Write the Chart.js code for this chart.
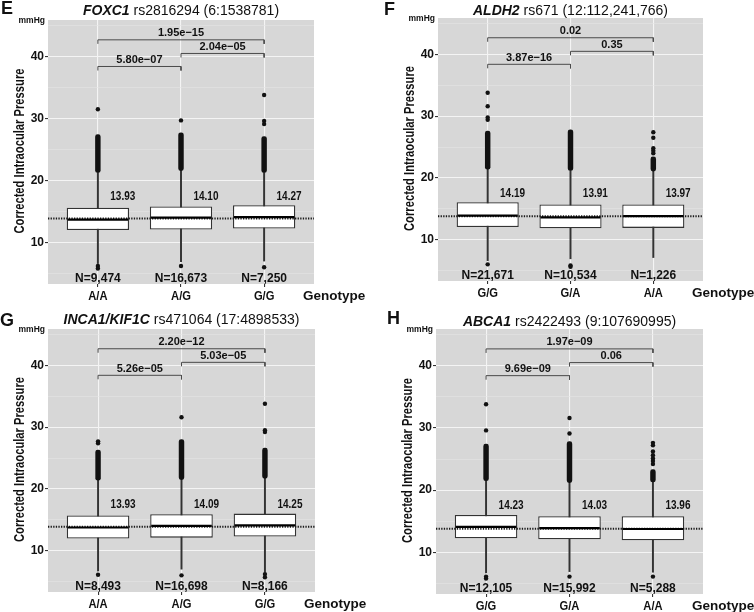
<!DOCTYPE html>
<html><head><meta charset="utf-8">
<script src="https://cdn.jsdelivr.net/npm/chart.js@4/dist/chart.umd.min.js"></script>
<style>
html,body{margin:0;padding:0;background:#fff;}
#wrap{position:relative;width:754px;height:612px;overflow:hidden;}
.pn{position:absolute;width:377px;height:306px;}
canvas{display:block;}
</style></head><body>
<div id="wrap">
<div class="pn" style="left:0;top:0"><canvas id="cE" width="377" height="306"></canvas></div>
<div class="pn" style="left:377px;top:0"><canvas id="cF" width="377" height="306"></canvas></div>
<div class="pn" style="left:0;top:306px"><canvas id="cG" width="377" height="306"></canvas></div>
<div class="pn" style="left:377px;top:306px"><canvas id="cH" width="377" height="306"></canvas></div>
</div>
<script>
// ---------- data ----------
const panelLetters = ['E', 'F', 'G', 'H'];
const geneNames = ['FOXC1', 'ALDH2', 'INCA1/KIF1C', 'ABCA1'];
const snpLabels = ['rs2816294 (6:1538781)', 'rs671 (12:112,241,766)', 'rs471064 (17:4898533)', 'rs2422493 (9:107690995)'];
const xAxisName = 'Genotype';
const yAxisName = 'Corrected Intraocular Pressure';
const yUnit = 'mmHg';
const yMajorTicks = [10, 20, 30, 40];
const yMinorTicks = [5, 15, 25, 35, 45];
const comparisonPairs = [[0, 1], [1, 2], [0, 2]];
const bracketLevels = [38.4, 40.5, 42.7];
const referenceLines = [13.85, 13.8, 13.85, 13.8];

// Panel E
const genotypesE = ['A/A', 'A/G', 'G/G'];
const q1E = [12.0, 12.1, 12.25];
const medianE = [13.7, 14.0, 14.1];
const q3E = [15.6, 15.8, 16.0];
const whiskerLowE = [6.6, 6.9, 7.0];
const whiskerHighE = [21.3, 21.6, 21.3];
const denseOutliersE = [[21.3, 27.4], [21.6, 27.7], [21.3, 27.1]];
const sparseOutliersE = [[31.5, 6.2, 5.8], [29.7, 6.2], [29.1, 29.6, 33.8, 6.0]];
const meanE = [13.93, 14.10, 14.27];
const countE = [9474, 16673, 7250];
const pValuesE = ['5.80e\u221207', '2.04e\u221205', '1.95e\u221215'];

// Panel F
const genotypesF = ['G/G', 'G/A', 'A/A'];
const q1F = [12.05, 11.85, 11.9];
const medianF = [13.9, 13.6, 13.8];
const q3F = [16.05, 15.7, 15.7];
const whiskerLowF = [6.6, 6.9, 7.1];
const whiskerHighF = [21.4, 21.2, 21.1];
const denseOutliersF = [[21.4, 27.6], [21.2, 27.8], [21.1, 23.4]];
const sparseOutliersF = [[29.4, 29.8, 31.6, 33.8, 6.0], [5.8, 5.6], [24.0, 24.4, 24.8, 26.5, 27.4]];
const meanF = [14.19, 13.91, 13.97];
const countF = [21671, 10534, 1226];
const pValuesF = ['3.87e\u221216', '0.35', '0.02'];

// Panel G
const genotypesG = ['A/A', 'A/G', 'G/G'];
const q1G = [11.95, 12.1, 12.3];
const medianG = [13.75, 14.0, 14.1];
const q3G = [15.7, 15.9, 16.0];
const whiskerLowG = [6.7, 7.0, 6.5];
const whiskerHighG = [21.4, 21.5, 21.7];
const denseOutliersG = [[21.4, 26.3], [21.5, 28.0], [21.7, 26.6]];
const sparseOutliersG = [[27.4, 27.7, 6.1], [31.6, 6.0], [29.2, 29.5, 33.8, 6.2, 5.7]];
const meanG = [13.93, 14.09, 14.25];
const countG = [8493, 16698, 8166];
const pValuesG = ['5.26e\u221205', '5.03e\u221205', '2.20e\u221212'];

// Panel H
const genotypesH = ['G/G', 'G/A', 'A/A'];
const q1H = [12.25, 12.1, 11.95];
const medianH = [14.1, 13.9, 13.75];
const q3H = [16.0, 15.8, 15.8];
const whiskerLowH = [6.7, 6.9, 6.8];
const whiskerHighH = [21.5, 21.2, 21.3];
const denseOutliersH = [[21.5, 27.4], [21.2, 27.8], [21.3, 23.3]];
const sparseOutliersH = [[29.6, 33.8, 6.1, 5.8], [29.1, 31.6, 6.1], [24.2, 24.7, 25.1, 25.6, 26.2, 27.2, 27.6, 6.1]];
const meanH = [14.23, 14.03, 13.96];
const countH = [12105, 15992, 5288];
const pValuesH = ['9.69e\u221209', '0.06', '1.97e\u221209'];

// ---------- layout / style ----------
const Y_MIN = 3.3, Y_MAX = 45.9, X_MIN = -0.6, X_MAX = 2.6;
const FONT = "'Liberation Sans', Arial, Helvetica, sans-serif";
const CONDENSE = 0.8;
const panelBoxes = [
  {canvas: 'cE', left: 48, right: 314, top: 20, bottom: 284, titleY: 11, letterX: 1, letterY: 9},
  {canvas: 'cF', left: 61, right: 326, top: 18, bottom: 281, titleY: 11, letterX: 7, letterY: 10},
  {canvas: 'cG', left: 48, right: 315, top: 23, bottom: 286, titleY: 14, letterX: 0, letterY: 15},
  {canvas: 'cH', left: 59, right: 326, top: 23, bottom: 288, titleY: 16, letterX: 10, letterY: 13}
];
const panels = [
  {cats: genotypesE, q1: q1E, med: medianE, q3: q3E, wLo: whiskerLowE, wHi: whiskerHighE, dense: denseOutliersE, sparse: sparseOutliersE, mean: meanE, count: countE, p: pValuesE},
  {cats: genotypesF, q1: q1F, med: medianF, q3: q3F, wLo: whiskerLowF, wHi: whiskerHighF, dense: denseOutliersF, sparse: sparseOutliersF, mean: meanF, count: countF, p: pValuesF},
  {cats: genotypesG, q1: q1G, med: medianG, q3: q3G, wLo: whiskerLowG, wHi: whiskerHighG, dense: denseOutliersG, sparse: sparseOutliersG, mean: meanG, count: countG, p: pValuesG},
  {cats: genotypesH, q1: q1H, med: medianH, q3: q3H, wLo: whiskerLowH, wHi: whiskerHighH, dense: denseOutliersH, sparse: sparseOutliersH, mean: meanH, count: countH, p: pValuesH}
];

// draw horizontally condensed text (no narrow font installed)
function condensedText(ctx, text, x, y, font, sx, rot) {
  ctx.save();
  ctx.translate(x, y);
  if (rot) ctx.rotate(rot);
  ctx.scale(sx, 1);
  ctx.font = font;
  ctx.textAlign = 'center';
  ctx.textBaseline = 'middle';
  ctx.fillText(text, 0, 0);
  ctx.restore();
}

function buildPanel(k) {
  const d = panels[k], L = panelBoxes[k];
  const idx = d.cats.map((c, i) => i);
  const boxData = idx.map(i => ({x: i, y: [d.q1[i], d.q3[i]]}));
  const whiskerData = idx.map(i => ({x: i, y: [d.wLo[i], d.wHi[i]]}));
  const denseData = idx.map(i => ({x: i, y: d.dense[i]}));
  const sparseData = [];
  idx.forEach(i => d.sparse[i].forEach(v => sparseData.push({x: i, y: v})));
  const refData = [{x: X_MIN, y: referenceLines[k]}, {x: X_MAX, y: referenceLines[k]}];
  const legDrop = 0.65;
  const bracketSets = comparisonPairs.map((pr, j) => ({
    type: 'line', order: 1,
    data: [{x: pr[0], y: bracketLevels[j] - legDrop}, {x: pr[0], y: bracketLevels[j]}, {x: pr[1], y: bracketLevels[j]}, {x: pr[1], y: bracketLevels[j] - legDrop}],
    borderColor: '#4a4a4a', borderWidth: 1, pointRadius: 0, tension: 0, fill: false
  }));

  const decor = {
    id: 'decor' + k,
    beforeDraw(chart) {
      const {ctx, chartArea: a} = chart;
      ctx.save();
      ctx.fillStyle = '#d7d7d7';
      ctx.fillRect(a.left, a.top, a.right - a.left, a.bottom - a.top);
      ctx.restore();
    },
    afterDatasetsDraw(chart) {
      const {ctx} = chart;
      const ys = chart.scales.y;
      const meta = chart.getDatasetMeta(4);
      ctx.save();
      ctx.strokeStyle = '#000';
      ctx.lineWidth = 2.2;
      meta.data.forEach((el, i) => {
        const py = ys.getPixelForValue(d.med[i]);
        ctx.beginPath();
        ctx.moveTo(el.x - el.width / 2 + 1, py);
        ctx.lineTo(el.x + el.width / 2 - 1, py);
        ctx.stroke();
      });
      ctx.restore();
    },
    afterDraw(chart) {
      const {ctx, chartArea: a} = chart;
      const xs = chart.scales.x, ys = chart.scales.y;
      ctx.save();
      ctx.fillStyle = '#111';
      ctx.textBaseline = 'middle';
      // panel letter
      ctx.textAlign = 'left';
      ctx.font = 'bold 18px ' + FONT;
      ctx.fillText(panelLetters[k], L.letterX, L.letterY);
      // title: italic gene + plain SNP
      const gFont = 'italic bold 14px ' + FONT, sFont = '14px ' + FONT;
      ctx.font = gFont; const gw = ctx.measureText(geneNames[k] + ' ').width;
      ctx.font = sFont; const sw = ctx.measureText(snpLabels[k]).width;
      const tx = (a.left + a.right) / 2 - (gw + sw) / 2;
      ctx.font = gFont; ctx.fillText(geneNames[k] + ' ', tx, L.titleY);
      ctx.font = sFont; ctx.fillText(snpLabels[k], tx + gw, L.titleY);
      // unit
      ctx.textAlign = 'right';
      ctx.font = 'bold 8.5px ' + FONT;
      ctx.fillText(yUnit, a.left - 3, a.top + 1);
      // x axis name
      ctx.textAlign = 'left';
      ctx.font = 'bold 13.5px ' + FONT;
      ctx.fillText(xAxisName, a.right - 11, a.bottom + 12);
      // y axis name (condensed, rotated)
      condensedText(ctx, yAxisName, a.left - 28, (a.top + a.bottom) / 2 - 1, 'bold 14px ' + FONT, CONDENSE, -Math.PI / 2);
      // category labels (condensed)
      idx.forEach(i => condensedText(ctx, d.cats[i], xs.getPixelForValue(i), a.bottom + 12, 'bold 13px ' + FONT, 0.86, 0));
      // mean labels (condensed)
      idx.forEach(i => condensedText(ctx, d.mean[i].toFixed(2), xs.getPixelForValue(i + 0.3), ys.getPixelForValue(17.45), 'bold 12.5px ' + FONT, CONDENSE, 0));
      // N labels
      ctx.textAlign = 'center';
      ctx.font = 'bold 12px ' + FONT;
      idx.forEach(i => ctx.fillText('N=' + d.count[i].toLocaleString('en-US'), xs.getPixelForValue(i), ys.getPixelForValue(4.2)));
      // p-values
      ctx.font = 'bold 11px ' + FONT;
      comparisonPairs.forEach((pr, j) => ctx.fillText(d.p[j], xs.getPixelForValue((pr[0] + pr[1]) / 2), ys.getPixelForValue(bracketLevels[j] + 1.07)));
      ctx.restore();
    }
  };

  return new Chart(document.getElementById(L.canvas), {
    type: 'bar',
    data: {
      datasets: [
        {type: 'line', order: 0, data: refData, borderColor: '#1a1a1a', borderWidth: 2, borderDash: [1.3, 1.3], pointRadius: 0, fill: false},
        ...bracketSets,
        {type: 'bar', order: 3, data: boxData, grouped: false, backgroundColor: '#ffffff', borderColor: '#333333', borderWidth: 1.3, borderSkipped: false, barPercentage: 0.75, categoryPercentage: 1.0},
        {type: 'bar', order: 4, data: denseData, grouped: false, backgroundColor: '#111111', borderWidth: 0, barThickness: 4.8, borderRadius: 2.4, borderSkipped: false},
        {type: 'scatter', order: 4, data: sparseData, backgroundColor: '#111111', borderWidth: 0, pointRadius: 2.2, showLine: false},
        {type: 'bar', order: 5, data: whiskerData, grouped: false, backgroundColor: '#333333', borderWidth: 0, barThickness: 1.3}
      ]
    },
    options: {
      responsive: false,
      animation: false,
      devicePixelRatio: 1,
      layout: {padding: {top: L.top, right: 377 - L.right, left: 0, bottom: 0}},
      plugins: {legend: {display: false}, tooltip: {enabled: false}, title: {display: false}},
      scales: {
        x: {
          type: 'linear', min: X_MIN, max: X_MAX, offset: false,
          afterBuildTicks: s => { s.ticks = idx.map(i => ({value: i})); },
          afterFit: s => { s.height = 306 - L.bottom; },
          border: {display: false},
          grid: {offset: false, color: '#f4f4f4', lineWidth: 1.1, tickLength: 3, tickColor: '#333', drawTicks: true},
          ticks: {autoSkip: false, maxRotation: 0, padding: 2, callback: () => ''}
        },
        y: {
          type: 'linear', min: Y_MIN, max: Y_MAX,
          afterBuildTicks: s => { s.ticks = yMinorTicks.concat(yMajorTicks).sort((a, b) => a - b).map(v => ({value: v})); },
          afterFit: s => { s.width = L.left; },
          border: {display: false},
          grid: {
            color: c => yMajorTicks.includes(c.tick.value) ? '#f4f4f4' : '#e4e4e4',
            lineWidth: c => yMajorTicks.includes(c.tick.value) ? 1.1 : 0.6,
            tickLength: 3,
            tickColor: c => yMajorTicks.includes(c.tick.value) ? '#333' : 'rgba(0,0,0,0)'
          },
          ticks: {padding: 1, color: '#111', font: {family: FONT, size: 12, weight: 'bold'}, callback: v => yMajorTicks.includes(v) ? String(v) : ''},
          title: {display: false}
        }
      }
    },
    plugins: [decor]
  });
}
panels.forEach((p, k) => buildPanel(k));
</script>
</body></html>
